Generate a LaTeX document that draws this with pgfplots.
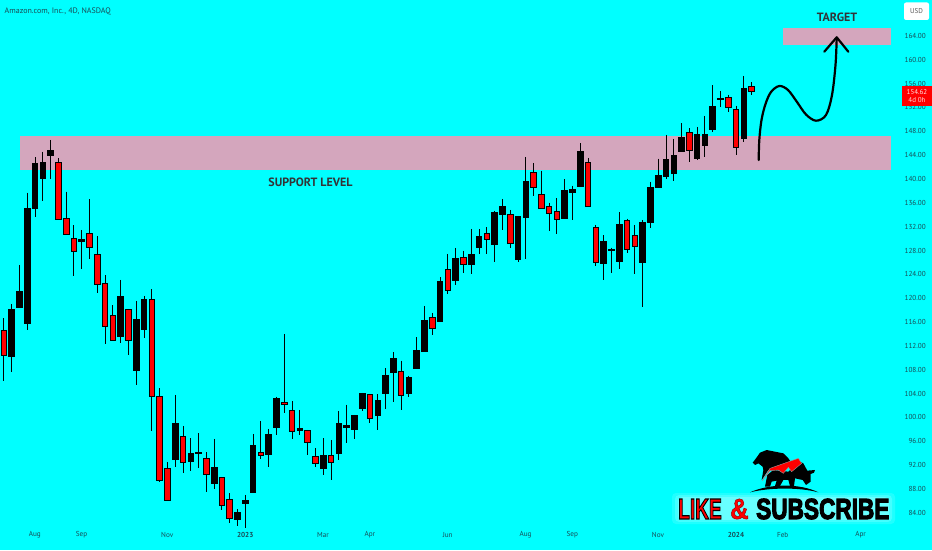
\documentclass[border=0pt]{standalone}
\usepackage{fontspec}
\usepackage{pgfplots}
\pgfplotsset{compat=1.18}
\setmainfont{PT Sans}
\newfontfamily\heavy{Liberation Sans Bold}
\newfontfamily\heavyb[FakeBold=4]{Liberation Sans Bold}
\definecolor{bg}{RGB}{0,255,255}
\definecolor{zone}{RGB}{212,166,189}
\definecolor{lab}{RGB}{25,75,85}
\definecolor{cred}{RGB}{255,0,0}
% colour, index, high, body top, body bottom, low
\newcommand\C[6]{%
  \pgfmathsetmacro\xa{#2-0.36}\pgfmathsetmacro\xb{#2+0.36}%
  \addplot[black,line width=0.65pt,forget plot] coordinates {(#2,#3)(#2,#6)};
  \addplot[draw=black,line width=0.6pt,fill=#1,forget plot] coordinates {(\xa,#4)(\xb,#4)(\xb,#5)(\xa,#5)} --cycle;
}
\newcommand\R[5]{\C{cred}{#1}{#2}{#3}{#4}{#5}}
\newcommand\B[5]{\C{black}{#1}{#2}{#3}{#4}{#5}}
\begin{document}
\begin{tikzpicture}
\path[use as bounding box] (0,0) rectangle (932pt,550pt);
\begin{axis}[at={(0,0)},anchor=south west,scale only axis,width=932pt,height=550pt,
  xmin=-0.475,xmax=119.17,ymin=77.76,ymax=170.03,
  axis background/.style={fill=bg},axis line style={draw=none},
  major tick length=0pt,tick style={draw=none},
  xtick={4,10,21,31,41,47,57,67,73,84,94,100,110},
  xticklabels={Aug,Sep,Nov,\textbf{2023},Mar,Apr,Jun,Aug,Sep,Nov,\textbf{2024},Feb,Apr},
  xticklabel style={font=\fontsize{7.2}{8}\selectfont,text=lab,anchor=center,yshift=15pt},
  ytick={84,88,...,164},yticklabel pos=right,
  yticklabel style={font=\fontsize{7.2}{8}\selectfont,text=lab,anchor=east,inner sep=0pt,xshift=-6pt,
    /pgf/number format/.cd,fixed,fixed zerofill,precision=2,assume math mode=true},
]
\addplot[fill=zone,draw=none] coordinates {(2.09,147.23)(113.9,147.23)(113.9,141.57)(2.09,141.57)} --cycle;
\addplot[fill=zone,draw=none] coordinates {(100,165.29)(113.9,165.29)(113.9,162.44)(100,162.44)} --cycle;
\R{0}{116.65}{114.69}{110.45}{106.19}
\B{1}{119.05}{118.21}{110.28}{107.70}
\B{2}{125.59}{121.18}{118.55}{118.43}
\B{3}{137.72}{135.03}{115.81}{114.69}
\B{4}{143.65}{142.65}{135.03}{133.69}
\B{5}{144.59}{142.75}{140.07}{136.33}
\B{6}{146.56}{144.88}{143.92}{139.96}
\R{7}{143.49}{142.75}{133.26}{133.14}
\R{8}{137.89}{133.47}{130.74}{130.67}
\R{9}{132.25}{130.00}{127.82}{123.80}
\B{10}{131.46}{129.90}{129.50}{124.92}
\R{11}{136.61}{130.96}{128.49}{126.55}
\R{12}{130.46}{127.44}{122.29}{120.85}
\R{13}{123.86}{122.52}{115.24}{112.29}
\R{14}{118.83}{117.21}{113.01}{112.93}
\B{15}{123.08}{120.34}{113.57}{112.56}
\R{16}{118.21}{118.16}{112.96}{110.50}
\B{17}{119.55}{116.49}{107.98}{105.42}
\B{18}{120.39}{119.89}{114.81}{113.40}
\R{19}{121.52}{119.77}{103.50}{97.80}
\R{20}{104.91}{103.57}{89.37}{89.15}
\R{21}{92.50}{91.50}{86.18}{86.06}
\B{22}{103.79}{98.98}{93.01}{91.76}
\R{23}{98.59}{96.91}{92.50}{90.66}
\B{24}{96.53}{94.06}{92.67}{91.04}
\B{25}{97.37}{94.23}{94.06}{91.60}
\R{26}{94.18}{93.17}{90.42}{87.57}
\B{27}{96.41}{91.66}{88.91}{88.02}
\R{28}{90.04}{89.99}{85.22}{84.39}
\R{29}{87.30}{86.23}{83.11}{82.27}
\B{30}{84.62}{84.05}{82.83}{81.82}
\B{31}{87.02}{86.13}{85.56}{81.53}
\B{32}{97.25}{95.35}{87.47}{87.30}
\R{33}{99.43}{94.23}{93.68}{93.01}
\B{34}{98.09}{97.25}{93.89}{91.66}
\B{35}{103.50}{103.17}{98.31}{97.08}
\R{36}{114.02}{102.62}{102.23}{100.82}
\R{37}{102.70}{101.22}{97.63}{96.41}
\B{38}{101.27}{98.20}{97.92}{97.08}
\R{39}{97.92}{97.87}{95.86}{93.78}
\R{40}{94.85}{93.56}{92.27}{91.71}
\B{41}{96.53}{93.61}{91.50}{90.42}
\R{42}{96.24}{93.68}{92.50}{89.53}
\B{43}{101.06}{98.98}{93.95}{92.89}
\B{44}{102.16}{98.76}{98.42}{95.79}
\B{45}{100.44}{100.32}{98.04}{96.36}
\B{46}{104.13}{104.07}{101.56}{101.16}
\R{47}{103.96}{103.91}{99.93}{99.14}
\B{48}{103.91}{102.83}{100.39}{97.87}
\B{49}{108.27}{107.03}{104.01}{101.49}
\B{50}{111.00}{109.94}{107.60}{102.57}
\R{51}{109.54}{107.76}{103.67}{101.22}
\B{52}{107.03}{106.69}{104.07}{103.50}
\B{53}{113.47}{111.29}{108.20}{108.15}
\B{54}{118.72}{116.37}{111.05}{111.00}
\R{55}{117.54}{116.82}{114.98}{113.90}
\B{56}{123.53}{122.86}{116.15}{116.08}
\R{57}{127.44}{124.92}{121.28}{120.73}
\B{58}{128.44}{126.65}{123.03}{122.24}
\R{59}{127.99}{126.82}{125.76}{124.20}
\B{60}{131.63}{127.39}{125.64}{124.03}
\B{61}{131.58}{130.41}{128.61}{127.39}
\R{62}{131.91}{130.91}{129.84}{127.49}
\B{63}{134.65}{134.43}{129.06}{126.15}
\B{64}{136.66}{135.37}{134.15}{131.51}
\R{65}{134.82}{134.15}{129.16}{128.49}
\B{66}{133.81}{133.76}{126.55}{126.15}
\B{67}{143.70}{139.68}{133.59}{126.55}
\R{68}{142.70}{141.14}{138.56}{137.21}
\R{69}{141.41}{137.45}{135.15}{135.10}
\R{70}{136.04}{135.44}{134.26}{131.24}
\R{71}{136.78}{134.60}{133.19}{130.74}
\B{72}{139.96}{138.12}{133.36}{133.31}
\B{73}{138.89}{138.29}{137.78}{133.19}
\B{74}{146.00}{144.71}{138.72}{138.67}
\R{75}{143.54}{142.75}{135.37}{135.32}
\R{76}{132.30}{131.96}{125.98}{125.47}
\B{77}{130.57}{129.57}{125.81}{123.13}
\B{78}{128.49}{128.23}{128.06}{124.25}
\B{79}{134.43}{132.42}{126.21}{124.87}
\R{80}{133.36}{133.09}{128.23}{127.66}
\R{81}{132.30}{130.62}{128.66}{124.13}
\B{82}{133.14}{132.75}{126.10}{118.55}
\B{83}{139.56}{138.67}{132.80}{131.85}
\B{84}{143.42}{140.64}{138.67}{138.62}
\B{85}{147.39}{143.32}{140.47}{140.07}
\B{86}{146.72}{143.99}{140.97}{139.68}
\B{87}{149.36}{147.01}{144.59}{144.54}
\R{88}{148.52}{147.90}{144.88}{142.87}
\B{89}{148.74}{147.44}{143.54}{143.20}
\B{90}{150.58}{147.44}{145.67}{143.76}
\B{91}{155.73}{152.21}{148.40}{147.95}
\B{92}{154.77}{153.48}{153.38}{152.04}
\R{93}{154.15}{153.72}{151.97}{151.20}
\R{94}{152.31}{151.64}{145.26}{144.09}
\B{95}{157.29}{155.28}{146.78}{146.27}
\R{96}{156.23}{155.49}{154.65}{154.15}
\end{axis}
% annotations in picture pixels
\begin{scope}[shift={(0,550pt)},x=1pt,y=-1pt]
\draw[line width=2.2pt,black,line cap=round,line join=round] plot[smooth,tension=.55] coordinates {(758.7,160)(759.3,140)(761.5,120)(765.5,104)(771,92)(779.3,86)(788,90)(797,102)(806,114.5)(816,120.7)(826,115)(832,95)(835.5,65)(836.7,38.3)};
\draw[line width=2.2pt,black,line cap=round,line join=round] (824.3,51.7)--(836.7,37.3)--(848.3,51.7);
\fill[cred] (902,86) rectangle (932,105.7);
\node[text=white!90!red,font=\fontsize{7}{8}\selectfont] at (917,92) {154.62};
\node[text=white!85!red,font=\fontsize{7}{8}\selectfont] at (917,100.5) {4d 0h};
\fill[white,rounded corners=2pt] (904,2.5) rectangle (929,20);
\node[text=black!65,font=\fontsize{7}{8}\selectfont] at (916.5,11.5) {USD};
\node[anchor=west,inner sep=0pt,text=lab,font=\fontsize{8}{9}\selectfont] at (4.5,11) {Amazon.com, Inc., 4D, NASDAQ};
\node[inner sep=0pt,font=\fontsize{12}{13}\selectfont\bfseries,text=black!90!cyan] at (837,17) {TARGET};
\node[inner sep=0pt,font=\fontsize{12}{13}\selectfont\bfseries,text=black!90!cyan] at (310.5,182) {SUPPORT LEVEL};
% logo text halo
\foreach \i/\o in {0/0.12,3/0.16,6/0.2}{
  \fill[white,opacity=\o,rounded corners=4pt] (672+\i,493+\i*.7) rectangle (895-\i,524-\i*.7);}
\node[inner sep=0pt,anchor=west] at (678,509) {\scalebox{.66}[1]{\fontsize{29}{30}\heavy\color{cred}\special{pdf:code q 2 Tr 1.1 w 0 0 0 RG}LIKE\special{pdf:code Q}}};
\node[inner sep=0pt,anchor=west] at (730,509) {\scalebox{.88}[1]{\fontsize{29}{30}\heavy\color{cred}\special{pdf:code q 2 Tr 0.5 w 0.6 0 0 RG}\&\special{pdf:code Q}}};
\node[inner sep=0pt,anchor=west] at (756,509) {\scalebox{.78}[1]{\fontsize{29}{30}\heavyb\color{black}SUBSCRIBE}};
\end{scope}
% logo, in the units of a 3x crop whose corner is at pixel (720,430)
\begin{scope}[shift={(720pt,120pt)},x=.3333pt,y=-.3333pt]
\fill[black] (98,98)--(108,85)--(120,68)--(140,60)--(165,65)--(190,70)--(205,85)--(212,95)--(170,108)--(145,120)--(125,150)--(130,120)--(128,110)--(115,100)--(105,105)--cycle;
\fill[black] (135,170)--(142,135)--(160,120)--(205,125)--(240,95)--(250,100)--(262,122)--(285,120)--(282,128)--(272,132)--(272,155)--(258,165)--(248,150)--(225,145)--(222,168)--(210,168)--(205,150)--(190,150)--(180,168)--(165,168)--(170,152)--(155,155)--(150,170)--cycle;
\fill[black] (90,187) .. controls (150,160) and (240,160) .. (295,187) .. controls (240,172) and (150,172) .. (90,187)--cycle;
\fill[cred,draw=black!40,line width=.4pt] (127,152)--(150,115)--(235,85)--(245,100)--(215,125)--(205,112)--(190,130)--(175,120)--(150,122)--cycle;
\end{scope}
\end{tikzpicture}
\end{document}
